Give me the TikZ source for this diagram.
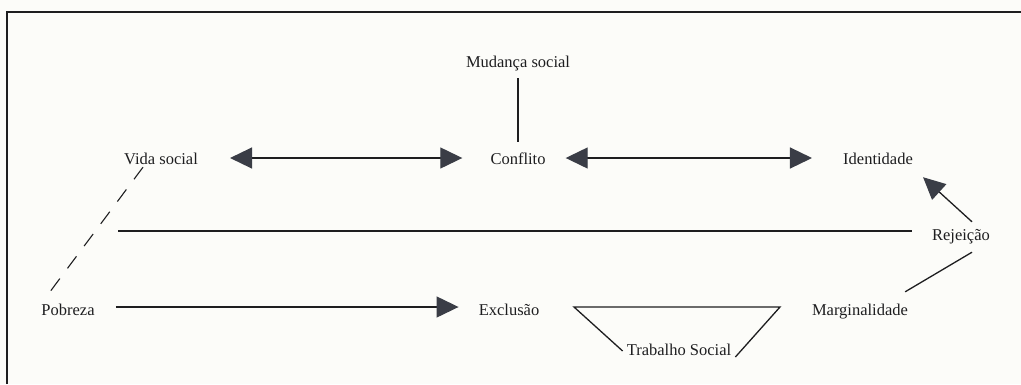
\documentclass[tikz,border=0pt]{standalone}
\usepackage{fontspec}
\setmainfont{Liberation Serif}
\usetikzlibrary{arrows.meta,calc}
\definecolor{paper}{RGB}{252,252,249}
\definecolor{ink}{RGB}{30,30,32}
\definecolor{headc}{RGB}{58,61,70}
\begin{document}
\begin{tikzpicture}[x=1pt,y=-1pt,
  lbl/.style={inner sep=0pt,text height=12pt,text depth=0pt,text=ink,
    font=\fontsize{16.5}{20}\selectfont},
  conn/.style={draw=ink,line width=1.3pt},
  >={Triangle[length=22pt,width=21pt,color=headc]}]
\fill[paper] (0,0) rectangle (1021,384);
\useasboundingbox (0,0) rectangle (1021,384);
% frame
\draw[ink,line width=2.6pt] (7,384) -- (7,12) -- (1021,12);
% nodes
\node[lbl] (ms)   at (518,61)  {Mudança social};
\node[lbl] (co)   at (518,158) {Conflito};
\node[lbl] (vs)   at (161,158) {Vida social};
\node[lbl] (id)   at (878,158) {Identidade};
\node[lbl] (rej)  at (961,234) {Rejeição};
\node[lbl] (pob)  at (68,309)  {Pobreza};
\node[lbl] (exc)  at (509,309) {Exclusão};
\node[lbl] (marg) at (860,309) {Marginalidade};
\node[lbl] (ts)   at (679,349) {Trabalho Social};
\coordinate (L)  at (118,231);
\coordinate (tl) at (574,307);
\coordinate (tr) at (780,307);
% connectors
\draw[conn,<->,shorten <=32pt,shorten >=28pt] (vs.east) -- (co.west);
\draw[conn,<->,shorten <=20pt,shorten >=31pt] (co.east) -- (id.west);
\draw[conn,shorten <=11pt,shorten >=10pt] (ms.south) -- (co.north);
\draw[conn,line width=1.1pt,dash pattern=on 15pt off 12.8pt]
  ([xshift=-18pt,yshift=-3pt]vs.south) -- ([xshift=8pt,yshift=10pt]pob.north west);
\draw[conn,shorten >=20pt] (L) -- (L -| rej.west);
\draw[conn,->] ([xshift=11pt,yshift=6pt]rej.north) -- ([xshift=10pt,yshift=-13pt]id.south east);
\draw[conn] ([xshift=-3pt,yshift=11pt]marg.north east) -- ([xshift=11pt,yshift=-12pt]rej.south);
\draw[conn,->,shorten <=21pt,shorten >=20pt] ([yshift=2pt]pob.east) -- ([yshift=2pt]pob.east -| exc.west);
\draw[conn] ([xshift=-4pt,yshift=-2pt]ts.west) -- (tl) -- (tr) -- ([xshift=4pt,yshift=-8pt]ts.east);
\end{tikzpicture}
\end{document}
